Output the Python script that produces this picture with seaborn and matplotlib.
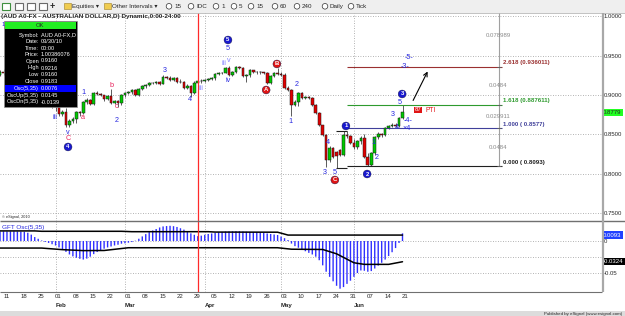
"""AUD/USD daily chart (eSignal style) with Elliott wave counts and GFT oscillator."""
import matplotlib
matplotlib.use("Agg")
import matplotlib.pyplot as plt
import matplotlib.transforms as mtransforms
from matplotlib.patches import Rectangle, Circle
import numpy as np
import seaborn as sns

# ---------------------------------------------------------------------------
# Data. Bar 0 = Jan 8 2010, one bar per trading day,
# bar 116 = Jun 21 2010.
# ---------------------------------------------------------------------------
opens = [
    0.9262, 0.9300, 0.9285, 0.9200, 0.9245, 0.9290, 0.9235, 0.9255, 0.9245, 0.9105,
    0.9050, 0.9000, 0.9040, 0.8970, 0.8960, 0.8930, 0.8860, 0.8850, 0.8760, 0.8790,
    0.8620, 0.8670, 0.8700, 0.8785, 0.8770, 0.8912, 0.8940, 0.8885, 0.9027, 0.9015,
    0.9000, 0.8950, 0.8990, 0.8900, 0.8925, 0.8895, 0.9001, 0.9027, 0.9040, 0.9065,
    0.8995, 0.9078, 0.9120, 0.9129, 0.9150, 0.9155, 0.9165, 0.9145, 0.9230, 0.9215,
    0.9192, 0.9215, 0.9165, 0.9170, 0.9090, 0.9120, 0.9030, 0.9160, 0.9183, 0.9175,
    0.9195, 0.9200, 0.9215, 0.9268, 0.9275, 0.9285, 0.9345, 0.9256, 0.9294, 0.9357,
    0.9350, 0.9243, 0.9250, 0.9319, 0.9295, 0.9288, 0.9290, 0.9281, 0.9154, 0.9243,
    0.9281, 0.9270, 0.9262, 0.9090, 0.9065, 0.8874, 0.8912, 0.9027, 0.8963, 0.8975,
    0.8965, 0.8874, 0.8772, 0.8620, 0.8492, 0.8174, 0.8327, 0.8270, 0.8300, 0.8238,
    0.8492, 0.8480, 0.8391, 0.8340, 0.8410, 0.8450, 0.8212, 0.8110, 0.8263, 0.8467,
    0.8500, 0.8492, 0.8582, 0.8607, 0.8620, 0.8605, 0.8709,
]
highs = [
    0.9320, 0.9330, 0.9295, 0.9265, 0.9310, 0.9300, 0.9270, 0.9290, 0.9250, 0.9130,
    0.9080, 0.9060, 0.9050, 0.9000, 0.8990, 0.8950, 0.8890, 0.8860, 0.8810, 0.8830,
    0.8700, 0.8720, 0.8800, 0.8800, 0.8930, 0.8960, 0.8950, 0.9040, 0.9050, 0.9030,
    0.9005, 0.9005, 0.9078, 0.8935, 0.8940, 0.9010, 0.9040, 0.9055, 0.9075, 0.9075,
    0.9090, 0.9130, 0.9140, 0.9165, 0.9170, 0.9180, 0.9180, 0.9256, 0.9245, 0.9240,
    0.9230, 0.9225, 0.9210, 0.9180, 0.9140, 0.9125, 0.9175, 0.9216, 0.9200, 0.9210,
    0.9215, 0.9230, 0.9280, 0.9290, 0.9300, 0.9360, 0.9370, 0.9305, 0.9370, 0.9375,
    0.9360, 0.9265, 0.9330, 0.9320, 0.9305, 0.9310, 0.9300, 0.9290, 0.9255, 0.9295,
    0.9340, 0.9290, 0.9280, 0.9110, 0.9075, 0.8935, 0.9045, 0.9040, 0.8990, 0.8985,
    0.8970, 0.8885, 0.8785, 0.8625, 0.8510, 0.8350, 0.8340, 0.8290, 0.8320, 0.8545,
    0.8540, 0.8490, 0.8440, 0.8430, 0.8480, 0.8500, 0.8260, 0.8275, 0.8480, 0.8530,
    0.8520, 0.8600, 0.8625, 0.8640, 0.8650, 0.8720, 0.8870,
]
lows = [
    0.9245, 0.9260, 0.9170, 0.9185, 0.9235, 0.9210, 0.9220, 0.9200, 0.9090, 0.9010,
    0.8980, 0.8985, 0.8950, 0.8930, 0.8900, 0.8840, 0.8800, 0.8730, 0.8740, 0.8600,
    0.8590, 0.8640, 0.8640, 0.8740, 0.8760, 0.8890, 0.8870, 0.8870, 0.9000, 0.8985,
    0.8930, 0.8940, 0.8890, 0.8890, 0.8849, 0.8880, 0.8975, 0.9020, 0.9020, 0.8985,
    0.8990, 0.9070, 0.9090, 0.9120, 0.9135, 0.9145, 0.9130, 0.9140, 0.9200, 0.9180,
    0.9175, 0.9150, 0.9150, 0.9080, 0.9080, 0.8976, 0.9020, 0.9160, 0.9160, 0.9165,
    0.9185, 0.9190, 0.9190, 0.9255, 0.9265, 0.9275, 0.9245, 0.9245, 0.9285, 0.9335,
    0.9235, 0.9167, 0.9230, 0.9280, 0.9270, 0.9265, 0.9265, 0.9140, 0.9145, 0.9230,
    0.9255, 0.9245, 0.9080, 0.9050, 0.8734, 0.8860, 0.8865, 0.8950, 0.8945, 0.8950,
    0.8860, 0.8760, 0.8605, 0.8480, 0.8090, 0.8150, 0.8200, 0.8073, 0.8220, 0.8225,
    0.8460, 0.8375, 0.8320, 0.8310, 0.8380, 0.8200, 0.8093, 0.8095, 0.8240, 0.8440,
    0.8470, 0.8480, 0.8570, 0.8595, 0.8590, 0.8600, 0.8700,
]
closes = [
    0.9300, 0.9285, 0.9200, 0.9245, 0.9290, 0.9235, 0.9255, 0.9245, 0.9105, 0.9050,
    0.9000, 0.9040, 0.8970, 0.8960, 0.8930, 0.8860, 0.8850, 0.8760, 0.8790, 0.8620,
    0.8670, 0.8700, 0.8785, 0.8770, 0.8912, 0.8940, 0.8885, 0.9027, 0.9015, 0.9000,
    0.8950, 0.8990, 0.8900, 0.8925, 0.8895, 0.9001, 0.9027, 0.9040, 0.9065, 0.8995,
    0.9078, 0.9120, 0.9129, 0.9150, 0.9155, 0.9165, 0.9145, 0.9230, 0.9215, 0.9192,
    0.9215, 0.9165, 0.9170, 0.9090, 0.9120, 0.9030, 0.9160, 0.9183, 0.9175, 0.9195,
    0.9200, 0.9215, 0.9268, 0.9275, 0.9285, 0.9345, 0.9256, 0.9294, 0.9357, 0.9350,
    0.9243, 0.9250, 0.9319, 0.9295, 0.9288, 0.9290, 0.9281, 0.9154, 0.9243, 0.9281,
    0.9270, 0.9262, 0.9090, 0.9065, 0.8874, 0.8912, 0.9027, 0.8963, 0.8975, 0.8965,
    0.8874, 0.8772, 0.8620, 0.8492, 0.8174, 0.8327, 0.8212, 0.8225, 0.8238, 0.8492,
    0.8480, 0.8391, 0.8340, 0.8410, 0.8450, 0.8212, 0.8110, 0.8263, 0.8467, 0.8500,
    0.8492, 0.8582, 0.8607, 0.8620, 0.8605, 0.8709, 0.8779,
]

# GFT Osc(5,35) histogram, one value per bar
osc = [
    0.0150, 0.0152, 0.0150, 0.0151, 0.0153, 0.0150, 0.0148, 0.0146, 0.0130, 0.0100,
    0.0062, 0.0035, 0.0008, -0.0015, -0.0030, -0.0050, -0.0070, -0.0100, -0.0135, -0.0170,
    -0.0210, -0.0240, -0.0262, -0.0278, -0.0290, -0.0275, -0.0245, -0.0205, -0.0172, -0.0145,
    -0.0120, -0.0100, -0.0085, -0.0070, -0.0058, -0.0042, -0.0036, -0.0026, -0.0016, 0.0005,
    0.0036, 0.0072, 0.0108, 0.0140, 0.0165, 0.0188, 0.0212, 0.0228, 0.0234, 0.0238,
    0.0232, 0.0220, 0.0200, 0.0178, 0.0150, 0.0120, 0.0098, 0.0076, 0.0084, 0.0098,
    0.0110, 0.0118, 0.0125, 0.0135, 0.0142, 0.0148, 0.0150, 0.0152, 0.0153, 0.0152,
    0.0148, 0.0145, 0.0142, 0.0140, 0.0136, 0.0132, 0.0126, 0.0118, 0.0110, 0.0102,
    0.0094, 0.0070, 0.0045, 0.0015, -0.0040, -0.0080, -0.0105, -0.0130, -0.0160, -0.0185,
    -0.0210, -0.0245, -0.0300, -0.0380, -0.0480, -0.0560, -0.0630, -0.0700, -0.0745, -0.0720,
    -0.0670, -0.0620, -0.0560, -0.0500, -0.0460, -0.0465, -0.0480, -0.0470, -0.0430, -0.0385,
    -0.0340, -0.0290, -0.0235, -0.0175, -0.0110, -0.0030, 0.0120,
]
# OscUp / OscDn envelope lines (vertices)
osc_up_bar = [0, 10, 12, 35, 38, 60, 62, 80, 83, 116]
osc_up_val = [0.0158, 0.0158, 0.0152, 0.0152, 0.0146, 0.0146, 0.0140, 0.0138, 0.0093, 0.0093]
osc_dn_bar = [0, 12, 18, 24, 30, 37, 80, 84, 93, 97, 102, 105, 112, 116]
osc_dn_val = [-0.0110, -0.0110, -0.0135, -0.0150, -0.0148, -0.0105, -0.0105, -0.0128,
              -0.0132, -0.0200, -0.0340, -0.0365, -0.0365, -0.0324]

# x axis
monday_bar = list(range(1, 117, 5))
day_labels = ['11', '18', '25', '01', '08', '15', '22', '01', '08', '15', '22', '29',
              '05', '12', '19', '26', '03', '10', '17', '24', '31', '07', '14', '21']
month_bar = [16, 36, 59, 81, 102]
month_labels = ['Feb', 'Mar', 'Apr', 'May', 'Jun']
cursor_bar = 57

price_ticks = [0.75, 0.80, 0.85, 0.90, 0.95, 1.00]

# Fibonacci projection
fib_levels = [0.8093, 0.8577, 0.887611, 0.936011]
fib_names = ['0.000 ( 0.8093)', '1.000 ( 0.8577)', '1.618 (0.887611)', '2.618 (0.936011)']
fib_colors = ['#202020', '#40409a', '#2e9a2e', '#9a3030']
fib_gap_text = ['0.0484', '0.029911', '0.0484', '0.078989']
fib_gap_price = [0.8335, 0.8727, 0.9118, 0.9752]
fib_top = 1.015

# Elliott wave circles: bar, price, label, colour
circ_bar = [19.6, 65.7, 99.7, 105.8, 115.9, 76.7, 79.8, 96.5]
circ_price = [0.8340, 0.9701, 0.8607, 0.7996, 0.9014, 0.9065, 0.9396, 0.7920]
circ_text = ['4', '5', '1', '2', '3', 'A', 'B', 'C']
circ_color = ['#1818d0'] * 5 + ['#e01414'] * 3

# Wave text labels
BLUE, RED, LILAC = '#2828e0', '#e8205a', '#8080ff'
lab_bar = [15.8, 19.6, 19.6, 23.9, 23.9, 32.0, 33.7, 33.7, 47.5, 54.7, 57.8,
           64.6, 65.9, 65.7, 65.7, 83.6, 85.6, 93.7, 94.5, 96.5, 107.5, 108.6,
           113.3, 114.4, 115.3, 117.6, 117.3, 117.9, 116.7]
lab_price = [0.8721, 0.8518, 0.8442, 0.8709, 0.9039, 0.9116, 0.8861, 0.8683, 0.9307,
             0.8950, 0.9090, 0.9396, 0.9440, 0.9192, 0.9599, 0.8658, 0.9129, 0.8021,
             0.8403, 0.8021, 0.8403, 0.8212, 0.8747, 0.8594, 0.8912, 0.8671, 0.8569,
             0.9472, 0.9358]
lab_text = ['iii', 'v', 'C', 'a', '1', 'b', 'c', '2', '3', '4', 'iii',
            'iii', 'v', 'iv', '5', '1', '2', '3', '4', '5', '1', '2',
            '3', '4', '5', '-4-', '\u00d74', '-5-', '-3-']
lab_color = [BLUE, BLUE, RED, RED, BLUE, RED, RED, BLUE, BLUE, BLUE, LILAC,
             LILAC, LILAC, BLUE, BLUE, BLUE, BLUE, BLUE, BLUE, BLUE, BLUE, BLUE,
             BLUE, BLUE, BLUE, BLUE, BLUE, BLUE, BLUE]

info_rows = [('Symbol:', 'AUD A0-FX,D'), ('Date:', '03/30/10'), ('Time:', '00:00'),
             ('Price:', '1.00386076'), ('Open', '0.9160'), ('High', '0.9216'),
             ('Low', '0.9160'), ('Close', '0.9183'), ('Osc(5,35)', '0.0076'),
             ('OscUp(5,35)', '0.0145'), ('OscDn(5,35)', '-0.0139')]

toolbar_items = ['15', 'IDC', '1', '5', '15', '60', '240', 'Daily', 'Tick']

# ---------------------------------------------------------------------------
sns.set_style("white")
plt.rcParams['font.family'] = ['Liberation Sans', 'DejaVu Sans']

FW, FH = 625, 316
fig = plt.figure(figsize=(FW / 100, FH / 100), dpi=100)
fig.patch.set_facecolor('white')


def px_rect(x0, y0, x1, y1):
    """Pixel box (y down) -> figure rect."""
    return [x0 / FW, 1 - y1 / FH, (x1 - x0) / FW, (y1 - y0) / FH]


ax = fig.add_axes(px_rect(0, 13, 602, 221))
ax2 = fig.add_axes(px_rect(0, 221, 602, 292))
for a in (ax, ax2):
    for s in a.spines.values():
        s.set_visible(False)

XLIM = (-0.0088, 173.5)
GRID = dict(color='#9a9a9a', lw=0.6, ls=(0, (1, 2)), zorder=0)

# ---- price panel ----------------------------------------------------------
bar_idx = np.arange(len(closes))
o, h, l, c = map(np.array, (opens, highs, lows, closes))
up = c >= o
body_lo = np.minimum(o, c)
body_h = np.maximum(np.abs(c - o), 0.0007)

for b in month_bar:
    ax.axvline(b, **GRID)
for p in price_ticks:
    ax.axhline(p, **GRID)

ax.vlines(bar_idx, l, h, color='#404040', lw=0.6, zorder=2)
ax.bar(bar_idx, body_h, bottom=body_lo, width=0.76,
       color=np.where(up, '#00c800', '#e00000'), edgecolor='#181818',
       linewidth=0.35, zorder=3)
ax.axvline(cursor_bar, color='#ff2a2a', lw=0.9, zorder=4)

# fibonacci projection
fib_start, fib_end, fib_axis = 100.0, 144.7, 143.8
ax.vlines(fib_axis, fib_levels[0], fib_top, color='#a0a0a0', lw=0.8, zorder=2)
ax.hlines(fib_levels[0] - 0.0020, 96.8, fib_start, color='#202020', lw=0.8)
ax.hlines(fib_levels[1] - 0.0032, 96.8, fib_start, color='#202020', lw=0.8)
for lvl, name, col in zip(fib_levels, fib_names, fib_colors):
    ax.hlines(lvl, fib_start, fib_end, color=col, lw=0.8, zorder=2)
    ax.hlines(lvl, fib_axis - 0.5, fib_axis + 0.5, color='#606060', lw=0.7)
    ax.text(145.0, lvl + 0.0050, name, color=col, fontsize=4.4,
            fontweight='bold', ha='left', va='center')
for t, p in zip(fib_gap_text, fib_gap_price):
    ax.text(fib_axis - 0.3, p, t, color='#8a8a8a', fontsize=4.3,
            ha='center', va='center')

# wave circles and labels
ax.scatter(circ_bar, circ_price, s=32, c=circ_color, edgecolors='#101040',
           linewidths=0.3, zorder=6)
for xb, yp, t in zip(circ_bar, circ_price, circ_text):
    ax.text(xb, yp, t, color='white', fontsize=4.3, fontweight='bold',
            ha='center', va='center', zorder=7)
for xb, yp, t, col in zip(lab_bar, lab_price, lab_text, lab_color):
    ax.text(xb, yp, t, color=col, fontsize=5.2, ha='center', va='center', zorder=6)

# PTI tag and projection arrow
ax.text(120.5, 0.8811, '87', color='white', fontsize=4.3, ha='center', va='center',
        bbox=dict(boxstyle='square,pad=0.12', fc='#e01414', ec='none'), zorder=7)
ax.text(122.6, 0.8806, 'PTI', color='#e01414', fontsize=4.8, ha='left', va='center')
ax.annotate('', xy=(123.6, 0.9332), xytext=(118.7, 0.8900),
            arrowprops=dict(arrowstyle='->', color='black', lw=0.8,
                            mutation_scale=7))

ax.set_xlim(*XLIM)
ax.set_ylim(0.7398, 1.00445)
ax.yaxis.tick_right()
ax.set_yticks(price_ticks)
ax.set_yticklabels([f'{p:.4f}' for p in price_ticks])
ax.tick_params(axis='y', length=0, pad=1.2, labelsize=4.3)
ax.tick_params(axis='x', length=0, labelbottom=False)
ax.text(1.002, closes[-1], f'{closes[-1]:.4f}', transform=ax.get_yaxis_transform(),
        fontsize=4.3, ha='left', va='center', clip_on=False,
        bbox=dict(boxstyle='square,pad=0.18', fc='#22ff22', ec='none'))

# ---- oscillator panel -----------------------------------------------------
for b in month_bar:
    ax2.axvline(b, **GRID)
for p in (0.0, -0.025, -0.05):
    ax2.axhline(p, **GRID)

sns.barplot(x=bar_idx, y=osc, native_scale=True, width=0.4, color='#3030ff',
            saturation=1, errorbar=None, linewidth=0, ax=ax2, zorder=2)
for patch in ax2.patches:
    patch.set_snap(False)
sns.lineplot(x=osc_up_bar, y=osc_up_val, color='black', lw=1.1, ax=ax2, zorder=3)
sns.lineplot(x=osc_dn_bar, y=osc_dn_val, color='black', lw=1.1, ax=ax2, zorder=3)
ax2.axvline(cursor_bar, color='#ff2a2a', lw=0.9, zorder=4)

ax2.set_xlim(*XLIM)
ax2.set_ylim(-0.0797, 0.0313)
ax2.set_xlabel('')
ax2.set_ylabel('')
ax2.yaxis.tick_right()
ax2.set_yticks([-0.05, 0.0])
ax2.set_yticklabels(['-0.05', '0'])
ax2.tick_params(axis='y', length=0, pad=1.2, labelsize=4.3)
ax2.set_xticks([b + 0.8 for b in monday_bar])
ax2.set_xticklabels(day_labels)
ax2.tick_params(axis='x', length=0, pad=1.6, labelsize=4.3)
mtrans = mtransforms.blended_transform_factory(ax2.transData, ax2.transAxes)
for b, m in zip(month_bar, month_labels):
    ax2.text(b, -0.185, m, transform=mtrans, fontsize=4.4, fontweight='bold',
             ha='left', va='center')
ytrans = ax2.get_yaxis_transform()
ax2.text(1.002, osc_up_val[-1], f'{osc_up_val[-1]:.4f}', transform=ytrans,
         color='white', fontsize=4.3, ha='left', va='center', clip_on=False,
         bbox=dict(boxstyle='square,pad=0.18', fc='#2040ff', ec='none'))
ax2.text(1.002, osc_dn_val[-1], f'{osc_dn_val[-1]:.4f}', transform=ytrans,
         color='white', fontsize=4.3, ha='left', va='center', clip_on=False,
         bbox=dict(boxstyle='square,pad=0.18', fc='black', ec='none'))

# ---- window chrome (pixel overlay) ----------------------------------------
ov = fig.add_axes([0, 0, 1, 1], zorder=10)
ov.set_xlim(0, FW)
ov.set_ylim(FH, 0)
ov.set_axis_off()
ov.patch.set_alpha(0)

# toolbar
ov.add_patch(Rectangle((0, 0), FW, 12.5, fc='#efefef', ec='none'))
ov.hlines(12.5, 0, FW, color='#b8b8b8', lw=0.6)
for x0, col in zip([2, 15, 27, 39], ['#3f8f3f', '#6a6a6a', '#6a6a6a', '#6a6a6a']):
    ov.add_patch(Rectangle((x0, 2.5), 8, 7.5, fc='white', ec=col, lw=0.8))
ov.text(52.5, 6.3, '+', fontsize=6.5, fontweight='bold', ha='center', va='center')
for fx, label in [(64, 'Equities \u25be'), (104, 'Other Intervals \u25be')]:
    ov.add_patch(Rectangle((fx, 3), 6.5, 6, fc='#f0cc50', ec='#a08020', lw=0.4))
    ov.text(fx + 8.5, 6.3, label, fontsize=4.5, ha='left', va='center')
for cx, label in zip([169, 191, 216, 234, 251, 275, 297, 325, 351], toolbar_items):
    ov.add_patch(Circle((cx, 6.3), 2.8, fc='white', ec='#303030', lw=0.5))
    ov.text(cx + 5, 6.3, label, fontsize=4.5, ha='left', va='center')

# header and small texts
ov.text(1, 16.8, '(AUD A0-FX - AUSTRALIAN DOLLAR,D) Dynamic,0:00-24:00',
        fontsize=4.6, fontweight='bold', ha='left', va='center')
ov.text(1.2, 24.5, '1', color='#2828e0', fontsize=4.2, ha='left', va='center')
ov.text(2, 217, '\u00a9 eSignal, 2010', fontsize=2.8, ha='left', va='center')
ov.text(2, 227, 'GFT Osc(5,35)', color='#2828e0', fontsize=4.6, ha='left', va='center')

# info box
ov.add_patch(Rectangle((3.5, 21), 73, 86, fc='black', ec='#909090', lw=0.5))
ov.add_patch(Rectangle((4.5, 21.5), 71, 7.5, fc='#22ee22', ec='none'))
ov.text(40, 25.3, 'OK', fontsize=4.2, ha='center', va='center')
ov.add_patch(Rectangle((4.5, 84.5), 71, 7.5, fc='#0000ff', ec='none'))
row_y = [35, 41.6, 48, 54.5, 61, 68, 75, 81.8, 88.3, 95.5, 102]
for (k, v), yy in zip(info_rows, row_y):
    ov.text(39, yy, k, color='white', fontsize=4.05, ha='right', va='center')
    ov.text(41, yy, v, color='white', fontsize=4.05, ha='left', va='center')

# panel separators
ov.hlines(221, 0, FW, color='#707070', lw=1.0)
ov.hlines(292, 0, 602, color='#707070', lw=0.8)
ov.vlines(602.5, 13, 292, color='#a8a8a8', lw=1.6)

# status strip
ov.add_patch(Rectangle((0, 310.5), FW, 6, fc='#dcdcdc', ec='none'))
ov.text(622, 313.5, 'Published by eSignal (www.esignal.com)', fontsize=3.2,
        ha='right', va='center')

fig.savefig('out.png', dpi=100)
